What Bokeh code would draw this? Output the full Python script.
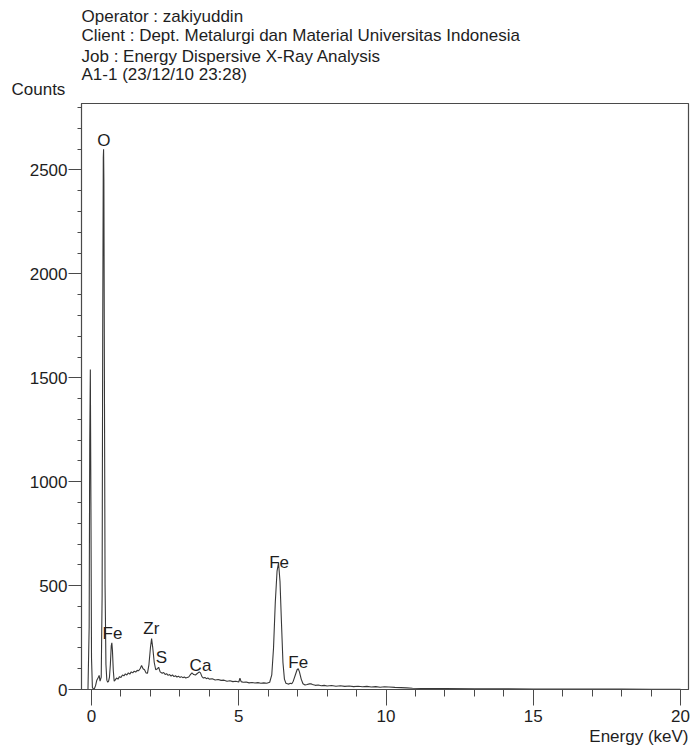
from bokeh.plotting import figure
from bokeh.models import Range1d, SingleIntervalTicker, Label, Title
from bokeh.embed import file_html
from bokeh.resources import INLINE

# ---- data ----
energy = [-0.12, -0.08, -0.06, -0.04, -0.02, 0.00, 0.03, 0.06, 0.10, 0.14, 0.18, 0.22, 0.26, 0.29, 0.33,
          0.36, 0.38, 0.40, 0.41, 0.42, 0.44, 0.46, 0.49, 0.52, 0.55, 0.58, 0.61, 0.64, 0.67, 0.69, 0.71,
          0.74, 0.77, 0.80, 0.85, 0.90, 0.95, 1.00, 1.05, 1.10, 1.15, 1.20, 1.25, 1.30, 1.35, 1.40, 1.45,
          1.50, 1.55, 1.60, 1.65, 1.70, 1.75, 1.80, 1.85, 1.90, 1.95, 2.00, 2.04, 2.08, 2.13, 2.18, 2.24,
          2.28, 2.33, 2.40, 2.45, 2.50, 2.55, 2.60, 2.65, 2.70, 2.75, 2.80, 2.85, 2.90, 2.95, 3.00, 3.05,
          3.10, 3.15, 3.20, 3.25, 3.30, 3.35, 3.41, 3.47, 3.53, 3.60, 3.66, 3.70, 3.75, 3.80, 3.85, 3.90,
          3.95, 4.00, 4.10, 4.20, 4.30, 4.40, 4.50, 4.60, 4.70, 4.80, 4.90, 5.00, 5.04, 5.08, 5.15, 5.25,
          5.35, 5.45, 5.55, 5.65, 5.75, 5.85, 5.95, 6.05, 6.12, 6.18, 6.24, 6.30, 6.35, 6.40, 6.45, 6.50,
          6.55, 6.60, 6.65, 6.70, 6.75, 6.80, 6.85, 6.92, 6.98, 7.02, 7.06, 7.12, 7.18, 7.25, 7.32, 7.40,
          7.45, 7.50, 7.60, 7.70, 7.80, 7.90, 8.00, 8.15, 8.30, 8.45, 8.60, 8.75, 8.90, 9.05, 9.20, 9.35,
          9.50, 9.65, 9.80, 9.95, 10.10, 10.30, 10.50, 10.70, 10.90, 11.20, 11.60, 12.00, 13.00, 14.00,
          15.00, 16.00, 17.00, 18.00, 19.00, 20.00]
counts = [0, 300, 1200, 1540, 900, 150, 10, 3, 5, 20, 45, 55, 68, 40, 60,
          450, 1700, 2560, 2600, 2450, 1400, 500, 120, 45, 35, 40, 60, 120, 210, 225, 190,
          90, 40, 45, 55, 50, 62, 58, 70, 66, 75, 70, 80, 74, 85, 80, 88,
          84, 92, 90, 100, 115, 100, 95, 80, 78, 120, 200, 245, 200, 130, 95, 100,
          107, 85, 78, 82, 72, 76, 68, 72, 65, 70, 62, 66, 60, 64, 58, 62,
          57, 60, 55, 58, 60, 70, 80, 72, 70, 78, 85, 80, 62, 55, 58, 52,
          55, 50, 52, 46, 48, 44, 45, 40, 42, 38, 40, 36, 54, 38, 35, 36,
          32, 34, 31, 33, 30, 32, 30, 35, 70, 200, 420, 570, 610, 520, 320, 130,
          50, 30, 28, 26, 30, 28, 40, 70, 95, 100, 85, 50, 28, 22, 24, 27,
          28, 24, 20, 22, 18, 20, 17, 19, 16, 18, 15, 17, 14, 16, 13, 15,
          12, 14, 11, 13, 12, 10, 9, 8, 6, 5, 4, 4, 3, 3,
          2, 2, 2, 2, 1, 1]

peak_names = ["O", "Fe", "Zr", "S", "Ca", "Fe", "Fe"]
peak_x = [0.42, 0.71, 2.03, 2.37, 3.70, 6.37, 7.02]
peak_y = [2644, 269, 293, 154, 115, 611, 130]

header_lines = ["Operator : zakiyuddin",
                "Client : Dept. Metalurgi dan Material Universitas Indonesia",
                "Job : Energy Dispersive X-Ray Analysis",
                "A1-1 (23/12/10 23:28)"]

FONT = "Liberation Sans"
INK = "#1e1e1e"
LINE = "#4a4a4a"

p = figure(width=694, height=747, output_backend="svg", toolbar_location=None,
           x_range=Range1d(-0.34, 20.27), y_range=Range1d(0, 2820),
           min_border_left=81, min_border_right=6, min_border_top=103, min_border_bottom=58)
p.background_fill_color = "white"
p.border_fill_color = "white"
p.outline_line_color = LINE
p.outline_line_width = 1.2
p.grid.visible = False

p.line(energy, counts, line_color="#383838", line_width=1.1)

# axes
p.xaxis.ticker = SingleIntervalTicker(interval=5, num_minor_ticks=5)
p.yaxis.ticker = SingleIntervalTicker(interval=500, num_minor_ticks=5)
for ax in (p.xaxis[0], p.yaxis[0]):
    ax.axis_line_color = LINE
    ax.major_tick_line_color = LINE
    ax.minor_tick_line_color = LINE
    ax.major_tick_in = 0
    ax.minor_tick_in = 0
    ax.major_label_text_font = FONT
    ax.major_label_text_color = INK
    ax.major_label_text_font_style = "normal"
    ax.major_label_text_font_size = "17px"
p.xaxis.major_tick_out = 16
p.xaxis.minor_tick_out = 7
p.xaxis.major_label_standoff = 4
p.yaxis.major_tick_out = 13
p.yaxis.minor_tick_out = 4
p.yaxis.major_label_standoff = 1

# peak labels
for name, x, y in zip(peak_names, peak_x, peak_y):
    p.add_layout(Label(x=x, y=y, text=name, text_align="center", text_baseline="middle",
                       text_font=FONT, text_font_size="17px", text_color=INK))

def title(text, standoff, offset=0, align="left"):
    return Title(text=text, align=align, offset=offset, standoff=standoff,
                 text_font=FONT, text_font_size="17px", text_font_style="normal",
                 text_color=INK)

# "Counts" just above the frame, shifted left of the y axis (nearest panel)
p.add_layout(title("Counts", 10, offset=-70), "above")
# header lines, stacked outward from the frame
header_standoffs = [9, -14, 14, -22]
for txt, s in reversed(list(zip(header_lines, header_standoffs))):
    p.add_layout(title(txt, s), "above")
# x axis title, right aligned under the axis
p.add_layout(title("Energy (keV)", 0, align="right"), "below")

open("out.html", "w").write(file_html(p, INLINE))
